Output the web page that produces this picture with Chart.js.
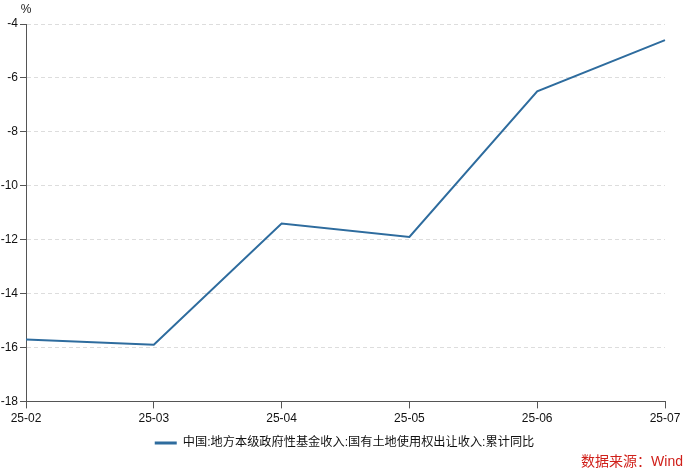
<!DOCTYPE html>
<html>
<head>
<meta charset="utf-8">
<script src="https://cdn.jsdelivr.net/npm/chart.js@4.4.1/dist/chart.umd.min.js"></script>
<style>
  html, body { margin: 0; padding: 0; background: #fff; }
  #wrap { width: 700px; height: 476px; position: relative; }
</style>
</head>
<body>
<div id="wrap"><canvas id="myChart"></canvas></div>
<script>
const months = ['25-02', '25-03', '25-04', '25-05', '25-06', '25-07'];
const landSaleYoY = [-15.7, -15.9, -11.4, -11.9, -6.5, -4.6];
const seriesName = '中国:地方本级政府性基金收入:国有土地使用权出让收入:累计同比';
const yMin = -18;
const yMax = -4;
const yStep = 2;

const font = "'Helvetica Neue', Helvetica, 'Liberation Sans', Arial, 'Noto Sans CJK SC', sans-serif";
const lineColor = 'rgb(46, 108, 158)';

Chart.defaults.font.family = font;
Chart.defaults.font.size = 12;
Chart.defaults.color = '#111';

// "%" unit above the y axis and the red source note
const extraText = {
    id: 'extraText',
    afterLayout(chart) {
        // legend sits centred on the whole canvas, not the padded box
        chart.legend.left += 12;
        chart.legend.right += 12;
    },
    afterDraw(chart) {
        const c = chart.ctx;
        const area = chart.chartArea;
        c.save();
        c.font = '12px ' + font;
        c.fillStyle = '#222';
        c.textAlign = 'center';
        c.textBaseline = 'bottom';
        c.fillText('%', area.left, area.top - 8);
        c.font = '14px ' + font;
        c.fillStyle = '#d0201a';
        c.textAlign = 'right';
        c.textBaseline = 'middle';
        c.fillText('数据来源：Wind', 683, 462);
        c.restore();
    }
};

const ctx = document.getElementById('myChart');

new Chart(ctx, {
    type: 'line',
    data: {
        labels: months,
        datasets: [{
            label: seriesName,
            data: landSaleYoY,
            borderColor: lineColor,
            backgroundColor: lineColor,
            borderWidth: 2,
            pointRadius: 0,
            tension: 0
        }]
    },
    options: {
        responsive: true,
        maintainAspectRatio: false,
        animation: false,
        layout: {
            padding: { top: 24, right: 35, bottom: 17, left: 0 }
        },
        plugins: {
            legend: {
                position: 'bottom',
                labels: {
                    boxWidth: 22,
                    boxHeight: 3,
                    padding: 8,
                    color: '#111',
                    font: { size: 12.2 },
                    generateLabels(chart) {
                        const items = Chart.defaults.plugins.legend.labels.generateLabels(chart);
                        items.forEach(it => { it.lineWidth = 0; });
                        return items;
                    }
                }
            },
            tooltip: { enabled: false }
        },
        scales: {
            x: {
                offset: false,
                grid: {
                    drawOnChartArea: false,
                    drawTicks: true,
                    tickLength: 7,
                    tickColor: '#555'
                },
                border: { color: '#555', width: 1 },
                ticks: { maxRotation: 0, padding: 3, color: '#111' }
            },
            y: {
                min: yMin,
                max: yMax,
                afterFit(scale) { scale.width = 26; },
                ticks: { stepSize: yStep, padding: 2, color: '#111' },
                grid: {
                    color: '#dddddd',
                    tickLength: 6,
                    tickColor: '#555'
                },
                border: { color: '#555', width: 1, dash: [4, 3] }
            }
        }
    },
    plugins: [extraText]
});
</script>
</body>
</html>
